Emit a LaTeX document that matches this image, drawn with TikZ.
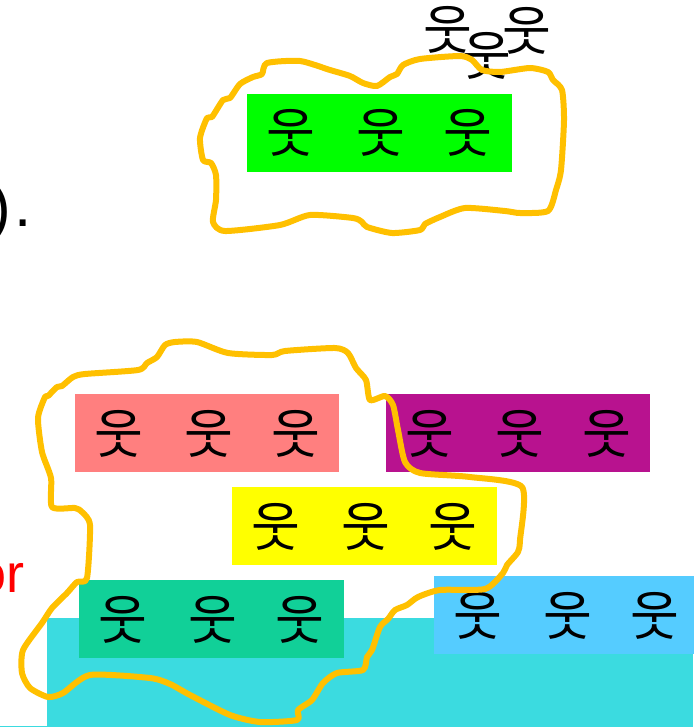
\documentclass[tikz,border=0pt]{standalone}
\usepackage{fontspec}
\setmainfont{Liberation Sans}
\newfontfamily\krfont{Noto Sans CJK KR}
\usepackage{tikz}
\definecolor{groupgreen}{HTML}{00FF00}
\definecolor{grouppink}{HTML}{FF7F7F}
\definecolor{grouppurple}{HTML}{B8128F}
\definecolor{groupyellow}{HTML}{FFFF00}
\definecolor{groupteal}{HTML}{11D098}
\definecolor{groupblue}{HTML}{55CCFF}
\definecolor{floorcyan}{HTML}{3BDBE0}
\definecolor{loopamber}{HTML}{FFC000}
\tikzset{
    groupnode/.style = {
        rectangle,
        anchor=north west,
        minimum width=264.5pt,
        minimum height=78pt,
        inner sep=0pt,
        outer sep=0mm
    },
    personnode/.style = {
        font=\krfont\fontsize{53}{53}\selectfont,
        inner sep=0pt,
        text=black
    },
    loopline/.style = {
        draw=loopamber,
        line width=6pt,
        line join=round,
        line cap=round
    }
}

\begin{document}
\begin{tikzpicture}[x=1pt,y=-1pt]
    \useasboundingbox (0,0) rectangle (693,727);
    \fill [floorcyan] (47,618) rectangle (693,727);
    \fill [floorcyan] (0,725.5) rectangle (47,727);
    \node [groupnode, fill=groupgreen] (green) at (247,94) {};
    \node [groupnode, fill=grouppink] (pink) at (74.7,394) {};
    \node [groupnode, fill=grouppurple] (purple) at (385.7,394) {};
    \node [groupnode, fill=groupyellow] (yellow) at (232,487) {};
    \node [groupnode, fill=groupteal] (teal) at (79,580) {};
    \node [groupnode, fill=groupblue] (blue) at (434,576) {};
    \foreach \group/\ypos/\xa/\xb/\xc in {
        green/133/291/381/468,
        pink/434/119/209/296,
        purple/434/430/520/607,
        yellow/527/276/366/453,
        teal/620/123/213/300,
        blue/616/478/568/655
    }{
        \node [personnode] (\group a) at (\xa,\ypos) {웃};
        \node [personnode] (\group b) at (\xb,\ypos) {웃};
        \node [personnode] (\group c) at (\xc,\ypos) {웃};
    }
    \node [personnode] (topa) at (448,30) {웃};
    \node [personnode] (topb) at (487,56) {웃};
    \node [personnode] (topc) at (527,31) {웃};
    \node [font=\fontsize{54}{54}\selectfont, text=red, anchor=base east] (ortext) at (28,592) {or};
    \node [font=\fontsize{62}{62}\selectfont, anchor=base east, inner sep=0pt] (closing) at (11,229) {)};
    \node [font=\fontsize{62}{62}\selectfont, anchor=base west, inner sep=0pt] (stop) at (14,226) {.};
    % hand drawn loops
    \draw [loopline] plot [smooth cycle, tension=0.4] coordinates {
        (213,222) (216,200) (216,175) (211,163) (203,160) (200,138) (207,118)
        (212,117) (223,100) (230,98) (240,84) (253,77) (262,74) (267,63) (300,61)
        (330,70) (350,76) (363,83) (377,86) (390,77) (397,74) (403,65) (420,59)
        (460,56) (472,60) (482,70) (500,72) (530,68) (548,72) (553,80) (562,90)
        (564,120) (561,170) (556,190) (548,211) (520,213) (505,211) (465,208)
        (440,217) (425,224) (420,230) (392,233) (367,227) (362,222) (353,218)
        (310,215) (280,225) (225,231)
    };
    \draw [loopline] plot [smooth cycle, tension=0.4] coordinates {
        (38,418) (45,397) (48,396) (57,387) (62,386) (73,377) (85,374) (138,370)
        (147,363) (157,357) (165,345) (175,342) (197,342) (228,353) (272,355)
        (285,351) (335,348) (348,353) (356,368) (366,380) (370,400) (385,396)
        (393,405) (398,430) (405,462) (420,473) (470,477) (522,487) (520,540)
        (518,552) (507,565) (503,573) (485,589) (440,590) (418,597) (407,605)
        (395,610) (388,619) (380,627) (372,650) (367,657) (363,670) (337,673)
        (323,683) (312,700) (298,710) (297,720) (260,722) (230,715) (190,695)
        (170,684) (150,678) (90,675) (63,693) (48,697) (30,688) (22,673) (23,650)
        (42,623) (52,608) (67,593) (77,582) (87,578) (90,525) (82,512) (75,508)
        (52,507) (51,478) (42,452)
    };
\end{tikzpicture}
\end{document}
